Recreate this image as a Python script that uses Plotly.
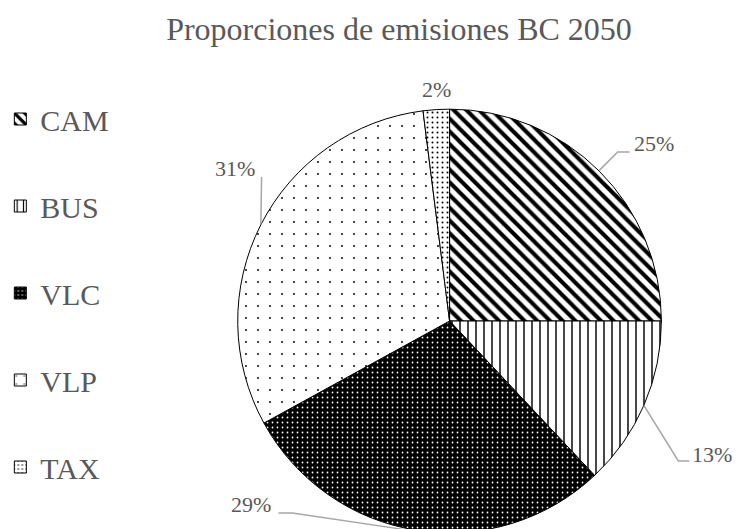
import math
import plotly.graph_objects as go

# ---- data ----
categories = ["CAM", "BUS", "VLC", "VLP", "TAX"]
values = [25, 13, 29, 31, 2]

# ---- style ----
W, H = 736, 534
CX, CY, R = 448, 321, 213          # pie centre / radius in px (from top-left)
FONT = "Times New Roman, Liberation Serif, serif"
GREY = "#595959"
LINE_GREY = "#A6A6A6"

colors = ["white", "white", "black", "white", "white"]
pat_shape = ["\\", "|", ".", ".", "."]
pat_fg = ["black", "black", "white", "black", "black"]
pat_bg = ["white", "white", "black", "white", "white"]
pat_size = [9, 8, 5, 12, 5]
pat_sol = [0.45, 0.18, 0.1, 0.02, 0.12]

# label centres (px) and leader-line elbows (px), per category
label_pos = {"CAM": (654, 143), "BUS": (712, 454), "VLC": (248, 504),
             "VLP": (232, 168), "TAX": (435, 90)}
elbows = {"CAM": [(617, 152), (629, 152)],
          "BUS": [(678, 461), (689, 461)],
          "VLC": [(290, 513), (276, 513)],
          "VLP": [(259, 177)],
          "TAX": []}


def px2paper(x, y):
    return x / W, 1 - y / H


fig = go.Figure()

fig.add_trace(go.Pie(
    labels=categories, values=values, sort=False, direction="clockwise",
    rotation=0, textinfo="none", hoverinfo="skip", showlegend=False,
    marker=dict(colors=colors, line=dict(color="black", width=1),
                pattern=dict(shape=pat_shape, fgcolor=pat_fg, bgcolor=pat_bg,
                             size=pat_size, solidity=pat_sol, fillmode="replace")),
    domain=dict(x=[(CX - R) / W, (CX + R) / W], y=[0, 2 * R / H]),
))

# legend entries (one per category, own group so spacing can be set)
for i, c in enumerate(categories):
    fig.add_trace(go.Bar(
        x=[0], y=[0], name=c, legendgroup=c, hoverinfo="skip",
        marker=dict(color=colors[i], line=dict(color="black", width=1),
                    pattern=dict(shape=pat_shape[i], fgcolor=pat_fg[i],
                                 bgcolor=pat_bg[i], size=pat_size[i],
                                 solidity=pat_sol[i], fillmode="replace")),
    ))

# percentage labels + leader lines
total = sum(values)
start = 0.0
shapes = []
annotations = []
for c, v in zip(categories, values):
    mid = start + v / total * 360 / 2
    start += v / total * 360
    pct = f"{round(v / total * 100)}%"
    lx, ly = label_pos[c]
    px_, py_ = px2paper(lx, ly)
    annotations.append(dict(x=px_, y=py_, xref="paper", yref="paper",
                            text=pct, showarrow=False, xanchor="center",
                            yanchor="middle",
                            font=dict(family=FONT, size=22, color=GREY)))
    if elbows[c]:
        ex = CX + R * math.sin(math.radians(mid))
        ey = CY - R * math.cos(math.radians(mid))
        pts = [(ex, ey)] + elbows[c]
        path = ""
        for k, (x, y) in enumerate(pts):
            a, b = px2paper(x, y)
            path += ("M" if k == 0 else "L") + f"{a:.5f},{b:.5f}"
        shapes.append(dict(type="path", path=path, xref="paper", yref="paper",
                           line=dict(color=LINE_GREY, width=1.5)))

fig.update_layout(
    width=W, height=H,
    margin=dict(l=0, r=0, t=0, b=0),
    paper_bgcolor="white", plot_bgcolor="white",
    title=dict(text="Proporciones de emisiones BC 2050", x=399 / W, xanchor="center",
               y=1 - 29 / H, yanchor="middle",
               font=dict(family=FONT, size=32, color=GREY)),
    xaxis=dict(visible=False, range=[10, 11], domain=[0, 0.01]),
    yaxis=dict(visible=False, range=[10, 11], domain=[0, 0.01]),
    legend=dict(x=-0.005, xanchor="left", y=1 - 93 / H, yanchor="top",
                font=dict(family=FONT, size=30, color=GREY),
                tracegroupgap=45, traceorder="grouped",
                bgcolor="rgba(0,0,0,0)"),
    shapes=shapes, annotations=annotations,
    hovermode=False,
)

fig.write_html("out.html", config={"displayModeBar": False},
               post_script="document.body.style.margin='0';"
                           "document.documentElement.style.overflow='hidden';"
                           "document.body.style.overflow='hidden';")
